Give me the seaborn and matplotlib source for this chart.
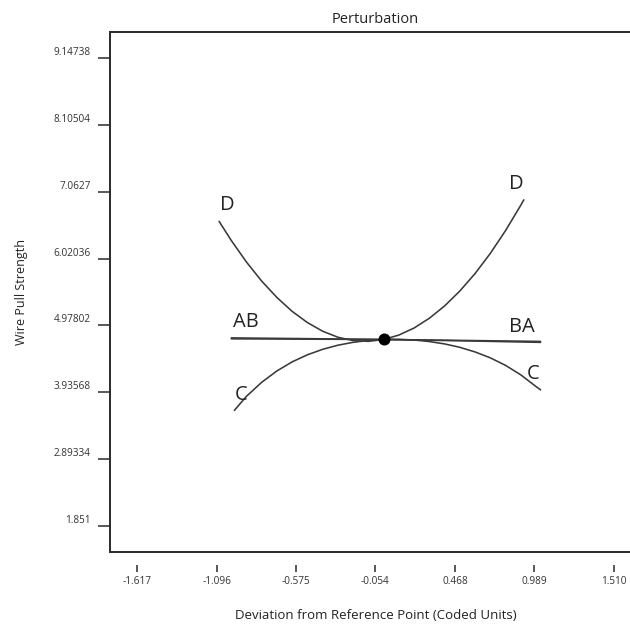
import matplotlib
matplotlib.use("Agg")
import matplotlib.pyplot as plt
import seaborn as sns
import pandas as pd

# ---- data ----
x_ticks = [-1.617, -1.096, -0.575, -0.054, 0.468, 0.989, 1.510]
x_tick_labels = ["-1.617", "-1.096", "-0.575", "-0.054", "0.468", "0.989", "1.510"]
y_ticks = [1.851, 2.89334, 3.93568, 4.97802, 6.02036, 7.0627, 8.10504, 9.14738]
y_tick_labels = ["1.851", "2.89334", "3.93568", "4.97802", "6.02036", "7.0627", "8.10504", "9.14738"]

a_x = [-1.0, -0.5, 0.0, 0.5, 1.03]
a_y = [4.785, 4.773, 4.760, 4.746, 4.730]
b_x = [-1.0, -0.5, 0.0, 0.5, 1.03]
b_y = [4.770, 4.765, 4.760, 4.740, 4.715]
c_x = [-0.98, -0.9, -0.8, -0.7, -0.6, -0.5, -0.4, -0.3, -0.2, -0.1, 0.0,
       0.1, 0.2, 0.3, 0.4, 0.5, 0.6, 0.7, 0.8, 0.9, 1.0, 1.03]
c_y = [3.655, 3.876, 4.094, 4.271, 4.412, 4.522, 4.607, 4.671, 4.716, 4.745, 4.760,
       4.762, 4.752, 4.728, 4.691, 4.638, 4.566, 4.474, 4.357, 4.209, 4.027, 3.975]
d_x = [-1.08, -1.0, -0.9, -0.8, -0.7, -0.6, -0.5, -0.4, -0.3, -0.2, -0.1, 0.0,
       0.1, 0.2, 0.3, 0.4, 0.5, 0.6, 0.7, 0.8, 0.9, 0.92]
d_y = [6.600, 6.302, 5.965, 5.668, 5.413, 5.197, 5.023, 4.888, 4.795, 4.743, 4.731, 4.760,
       4.829, 4.939, 5.091, 5.282, 5.515, 5.787, 6.101, 6.456, 6.851, 6.935]
ref_x = [0.0]
ref_y = [4.76]

curve_labels = ["D", "D", "AB", "BA", "C", "C"]
label_x = [-1.029, 0.869, -0.906, 0.906, -0.933, 0.982]
label_y = [6.853, 7.180, 5.026, 4.958, 3.894, 4.221]

frames = []
for name, xs, ys in [("A", a_x, a_y), ("B", b_x, b_y), ("C", c_x, c_y), ("D", d_x, d_y)]:
    frames.append(pd.DataFrame({"factor": name, "x": xs, "y": ys}))
df = pd.concat(frames, ignore_index=True)

# ---- style ----
sns.set_style("white")
plt.rcParams["font.family"] = ["Open Sans", "DejaVu Sans"]

fig = plt.figure(figsize=(6.30, 6.26), dpi=100)
ax = fig.add_axes([110 / 630, 1 - 552 / 626, 531 / 630, (552 - 31.5) / 626])

line_col = "#3a3a3a"
sns.lineplot(data=df, x="x", y="y", units="factor", estimator=None, sort=False,
             color=line_col, linewidth=1.15, ax=ax, legend=False)
sns.scatterplot(x=ref_x, y=ref_y, color="black", s=75, edgecolor="black",
                linewidth=0, ax=ax, zorder=5, legend=False)

for t, tx, ty in zip(curve_labels, label_x, label_y):
    ax.text(tx, ty, t, ha="center", va="center", fontsize=14.5, color="#222222")

ax.set_xlim(-1.796, 1.689)
ax.set_ylim(1.450, 9.557)
ax.set_xticks(x_ticks)
ax.set_xticklabels(x_tick_labels)
ax.set_yticks(y_ticks)
ax.set_yticklabels(y_tick_labels)

spine_col = "#2a2a2a"
for s in ["left", "top", "right"]:
    ax.spines[s].set_color(spine_col)
    ax.spines[s].set_linewidth(1.4)
    ax.spines[s].set_visible(True)
# x ticks detached from the bottom border
ax.spines["bottom"].set_position(("outward", 9))
ax.spines["bottom"].set_visible(False)
ax.plot([0, 1], [0, 0], transform=ax.transAxes, color=spine_col, lw=1.4,
        clip_on=False, solid_capstyle="butt")

ax.tick_params(axis="x", direction="out", length=5, width=1.1, color=spine_col,
               labelsize=7.2, labelcolor="#333333", pad=3, bottom=True)
ax.tick_params(axis="y", direction="out", length=9, width=1.1, color=spine_col,
               labelsize=7.2, labelcolor="#333333", pad=5, left=True)
for lab in ax.get_yticklabels():
    lab.set_va("bottom")

ax.set_xlabel("Deviation from Reference Point (Coded Units)", fontsize=9.5,
              color="#222222", labelpad=16)
ax.set_ylabel("Wire Pull Strength", fontsize=9, color="#222222", labelpad=18)
ax.set_title("Perturbation", fontsize=10.5, color="#222222", pad=6)

fig.savefig("out.png", dpi=100)
